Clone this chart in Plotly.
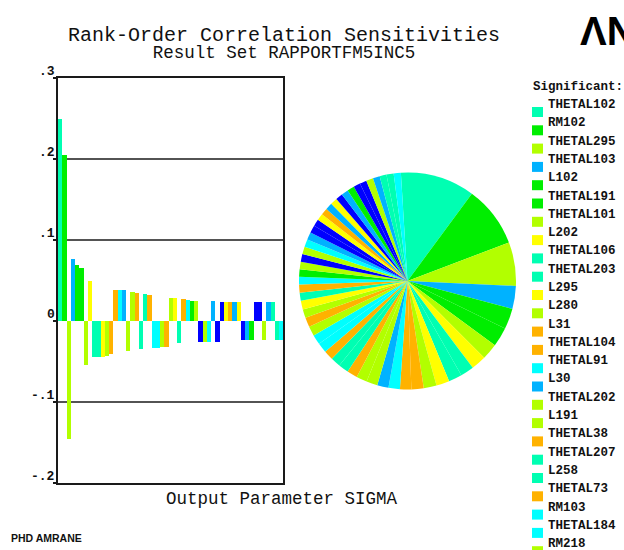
import plotly.graph_objects as go

# colour scale used for the parameters
PALETTE = {
    "blue": "#0000FF",
    "ltblue": "#00B2FF",
    "cyan": "#00FFFF",
    "cygreen": "#00FFB2",
    "green": "#00EE00",
    "ygreen": "#B2FF00",
    "yellow": "#FFFF00",
    "orange": "#FFB200",
}

# rank-order correlation coefficients, sorted by magnitude
coefficients = [
    0.249, 0.205, -0.146, 0.077, 0.069, 0.065, -0.054, 0.050,
    -0.045, -0.045, -0.044, -0.043, -0.041, 0.038, 0.038, 0.038,
    -0.037, 0.036, 0.035, -0.034, 0.033, 0.032, -0.033, -0.033,
    -0.032, -0.032, 0.029, 0.029, -0.027, 0.027, 0.026, 0.025,
    0.025, -0.0255, -0.0255, -0.0255, 0.025, -0.0255, 0.023, 0.023,
    0.023, 0.023, 0.023, -0.0235, -0.0235, -0.0235, 0.023, 0.023,
    -0.0235, 0.023, 0.023, -0.024, -0.024,
]
coef_colors = [
    "cygreen", "green", "ygreen", "ltblue", "green", "green", "ygreen", "yellow",
    "cygreen", "cygreen", "yellow", "ygreen", "orange", "orange", "cyan", "ltblue",
    "ygreen", "ygreen", "orange", "cygreen", "cygreen", "orange", "cyan", "cyan",
    "ygreen", "orange", "ygreen", "yellow", "cygreen", "orange", "cyan", "green",
    "ygreen", "blue", "ygreen", "cyan", "ltblue", "blue", "blue", "yellow",
    "orange", "ltblue", "yellow", "blue", "ltblue", "green", "blue", "blue",
    "ygreen", "ltblue", "cygreen", "cygreen", "cyan",
]

# significant input parameters, in rank order
significant_names = [
    "THETAL102", "RM102", "THETAL295", "THETAL103", "L102", "THETAL191",
    "THETAL101", "L202", "THETAL106", "THETAL203", "L295", "L280", "L31",
    "THETAL104", "THETAL91", "L30", "THETAL202", "L191", "THETAL38",
    "THETAL207", "L258", "THETAL73", "RM103", "THETAL184", "RM218",
]

y_ticks = [-0.2, -0.1, 0.0, 0.1, 0.2, 0.3]
y_tick_text = ["-.2", "-.1", "0", ".1", ".2", ".3"]

W, H = 624, 550
MONO = "Liberation Mono"


def px_x(p):
    return p / W


def px_y(p):
    return 1 - p / H


bar_colors = [PALETTE[c] for c in coef_colors]
positions = list(range(1, len(coefficients) + 1))

fig = go.Figure()

fig.add_trace(go.Bar(
    x=positions, y=coefficients, width=1.0,
    marker=dict(color=bar_colors, line=dict(width=0)),
    xaxis="x", yaxis="y", hoverinfo="y",
))

fig.add_trace(go.Pie(
    values=[abs(v) for v in coefficients],
    marker=dict(colors=bar_colors, line=dict(width=0)),
    sort=False, direction="clockwise", rotation=-3.5,
    textinfo="none", hoverinfo="percent",
    domain=dict(x=[px_x(299), px_x(516)], y=[px_y(390), px_y(172)]),
))

shapes = []
# horizontal reference lines (no line at zero)
for v in y_ticks:
    if v in (0.0, -0.2, 0.3):
        continue
    shapes.append(dict(type="line", xref="x domain", yref="y", x0=0, x1=1,
                       y0=v, y1=v, line=dict(color="#1a1a1a", width=1.5),
                       layer="below"))

annotations = []
for v, t in zip(y_ticks, y_tick_text):
    annotations.append(dict(
        text=t, xref="paper", yref="y", x=px_x(57), y=v, xanchor="right",
        yanchor="middle", yshift=7, showarrow=False,
        font=dict(family=MONO, size=13, color="#111", weight="bold"),
    ))

# two-line title: small base size keeps the lines close together
title_text = ("<span style='font-size:20px'>Rank-Order Correlation Sensitivities</span>"
              "<br><span style='font-size:17.5px'>Result Set RAPPORTFM5INC5</span>")

annotations += [
    dict(text=title_text, xref="paper", yref="paper",
         x=px_x(284), y=px_y(44), xanchor="center", yanchor="middle",
         align="center", showarrow=False,
         font=dict(family=MONO, size=13, color="#111")),
    dict(text="Output Parameter SIGMA", xref="paper", yref="paper",
         x=px_x(282), y=px_y(499), xanchor="center", yanchor="middle",
         showarrow=False, font=dict(family=MONO, size=17.5, color="#111")),
    dict(text="PHD AMRANE", xref="paper", yref="paper",
         x=px_x(9), y=px_y(538), xanchor="left", yanchor="middle",
         showarrow=False,
         font=dict(family="Liberation Sans", size=10.5, color="#111", weight="bold")),
    dict(text="ΛN", xref="paper", yref="paper",
         x=px_x(578), y=px_y(31), xanchor="left", yanchor="middle",
         showarrow=False,
         font=dict(family="Liberation Sans", size=40, color="#000", weight="bold")),
    dict(text="Significant:", xref="paper", yref="paper",
         x=px_x(531), y=px_y(87), xanchor="left", yanchor="middle",
         showarrow=False,
         font=dict(family=MONO, size=12.5, color="#111", weight="bold")),
]

# legend entries: name on one row, colour swatch just below to the left
ROW = 18.3
for i, name in enumerate(significant_names):
    ty = 105 + ROW * i
    annotations.append(dict(
        text=name, xref="paper", yref="paper", x=px_x(546), y=px_y(ty),
        xanchor="left", yanchor="middle", showarrow=False,
        font=dict(family=MONO, size=12.5, color="#111", weight="bold"),
    ))
    shapes.append(dict(
        type="rect", xref="paper", yref="paper",
        x0=px_x(532), x1=px_x(543), y0=px_y(ty + 12), y1=px_y(ty + 2),
        fillcolor=PALETTE[coef_colors[i]], line=dict(width=0),
    ))

fig.update_layout(
    width=W, height=H, margin=dict(l=0, r=0, t=0, b=0),
    paper_bgcolor="white", plot_bgcolor="white", showlegend=False,
    bargap=0,
    xaxis=dict(domain=[px_x(57.5), px_x(283)], range=[0.5, len(coefficients) + 0.5],
               showline=True, mirror=True, linecolor="#1a1a1a", linewidth=1.5,
               showgrid=False, zeroline=False, showticklabels=False, ticks="",
               layer="below traces", fixedrange=True),
    yaxis=dict(domain=[px_y(483), px_y(78)], range=[-0.2, 0.3],
               showline=True, mirror=True, linecolor="#1a1a1a", linewidth=1.5,
               showgrid=False, zeroline=False, showticklabels=False,
               tickvals=y_ticks, ticks="outside", ticklen=3, tickwidth=1.5,
               tickcolor="#1a1a1a", layer="below traces", fixedrange=True),
    shapes=shapes, annotations=annotations,
)

fig.write_html("out.html")
